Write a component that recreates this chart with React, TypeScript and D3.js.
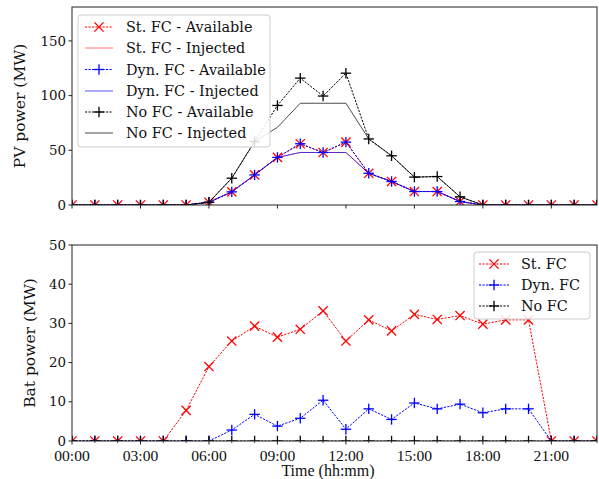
import React from "react";
import * as d3 from "d3";

const hours = d3.range(0, 24);
const xTickHours = [0, 3, 6, 9, 12, 15, 18, 21];
const xTickLabels = ["00:00", "03:00", "06:00", "09:00", "12:00", "15:00", "18:00", "21:00"];
const pvTicks = [0, 50, 100, 150];
const batTicks = [0, 10, 20, 30, 40, 50];

const stAvail = [0, 0, 0, 0, 0, 0, 2.5, 12, 27.5, 43.5, 56, 48, 57.5, 29, 21.5, 12.3, 12.3, 3.2, 0, 0, 0, 0, 0, 0];
const stInj = [0, 0, 0, 0, 0, 0, 2.5, 12, 27.5, 43.5, 48, 48, 48, 29, 21.5, 12.3, 12.3, 3.2, 0, 0, 0, 0, 0, 0];
const dynAvail = [0, 0, 0, 0, 0, 0, 2.5, 12, 27.5, 43.5, 56, 48, 57.5, 29, 21.5, 12.3, 12.3, 3.2, 0, 0, 0, 0, 0, 0];
const dynInj = [0, 0, 0, 0, 0, 0, 2.5, 12, 27.5, 43.5, 48, 48, 48, 29, 21.5, 12.3, 12.3, 3.2, 0, 0, 0, 0, 0, 0];
const noAvail = [0, 0, 0, 0, 0, 0, 2.5, 24.5, 58, 91, 116, 99.6, 120.5, 60.4, 45, 25.5, 26, 7.5, 0, 0, 0, 0, 0, 0];
const noInj = [0, 0, 0, 0, 0, 0, 2.5, 24.5, 58, 71, 93, 93, 93, 60.4, 45, 25.5, 26, 7.5, 0, 0, 0, 0, 0, 0];

const stBat = [0, 0, 0, 0, 0, 7.8, 19, 25.5, 29.3, 26.5, 28.5, 33.2, 25.5, 30.9, 28.1, 32.3, 31, 32, 29.8, 30.9, 30.9, 0, 0, 0];
const dynBat = [0, 0, 0, 0, 0, 0, 0, 2.8, 6.8, 3.8, 5.8, 10.4, 3.0, 8.2, 5.5, 9.7, 8.2, 9.4, 7.2, 8.2, 8.2, 0, 0, 0];
const noBat = [0, 0, 0, 0, 0, 0, 0, 0, 0, 0, 0, 0, 0, 0, 0, 0, 0, 0, 0, 0, 0, 0, 0, 0];

const topLegend = ["St. FC - Available", "St. FC - Injected", "Dyn. FC - Available", "Dyn. FC - Injected", "No FC - Available", "No FC - Injected"];
const botLegend = ["St. FC", "Dyn. FC", "No FC"];

const W = 599, H = 479;
const L = 72, R = 597;
const T1 = 7, B1 = 205;
const T2 = 245, B2 = 441;
const SERIF = "'DejaVu Serif', serif";

type Series = { vals: number[]; color: string; dashed: boolean; marker: "x" | "+" | null; opacity: number };

function Marker({ type, x, y, color }: { type: "x" | "+" | null; x: number; y: number; color: string }) {
  if (!type) return null;
  if (type === "x") {
    const s = 4.6;
    return (
      <g stroke={color} strokeWidth={1.3}>
        <line x1={x - s} y1={y - s} x2={x + s} y2={y + s} />
        <line x1={x - s} y1={y + s} x2={x + s} y2={y - s} />
      </g>
    );
  }
  const s = 5.2;
  return (
    <g stroke={color} strokeWidth={1.3}>
      <line x1={x - s} y1={y} x2={x + s} y2={y} />
      <line x1={x} y1={y - s} x2={x} y2={y + s} />
    </g>
  );
}

function Panel({ id, top, bottom, ymax, yTicks, series, showXLabels }: { id: string; top: number; bottom: number; ymax: number; yTicks: number[]; series: Series[]; showXLabels: boolean }) {
  const x = d3.scaleLinear().domain([0, 23]).range([L, R]);
  const y = d3.scaleLinear().domain([0, ymax]).range([bottom, top]);
  const line = d3.line<number>().x((_, i) => x(hours[i])).y((v) => y(v));
  return (
    <g>
      <defs>
        <clipPath id={id}>
          <rect x={L} y={top} width={R - L} height={bottom - top} />
        </clipPath>
      </defs>
      <g clipPath={`url(#${id})`}>
        {series.map((s, k) => (
          <g key={k} opacity={s.opacity}>
            <path d={line(s.vals) || ""} fill="none" stroke={s.color} strokeWidth={1} strokeDasharray={s.dashed ? "2.2,1.3" : undefined} />
            {s.vals.map((v, i) => (
              <Marker key={i} type={s.marker} x={x(hours[i])} y={y(v)} color={s.color} />
            ))}
          </g>
        ))}
      </g>
      <rect x={L} y={top} width={R - L} height={bottom - top} fill="none" stroke="#222" strokeWidth={1} />
      {yTicks.map((t) => (
        <g key={t}>
          <line x1={L - 3.5} x2={L} y1={y(t)} y2={y(t)} stroke="#222" strokeWidth={1} />
          <text x={L - 6} y={y(t)} dy="0.35em" textAnchor="end" fontFamily={SERIF} fontSize={13.4} fill="#111">{t}</text>
        </g>
      ))}
      {xTickHours.map((h, i) => (
        <g key={h}>
          <line x1={x(h)} x2={x(h)} y1={bottom} y2={bottom + 3.5} stroke="#222" strokeWidth={1} />
          {showXLabels && (
            <text x={x(h)} y={bottom + 19.5} textAnchor="middle" fontFamily="'Liberation Serif', serif" fontSize={15.6} fill="#111">{xTickLabels[i]}</text>
          )}
        </g>
      ))}
      {showXLabels && hours.filter((h) => h % 3 !== 0).map((h) => (
        <line key={"m" + h} x1={x(h)} x2={x(h)} y1={bottom} y2={bottom + 2} stroke="#222" strokeWidth={0.8} />
      ))}
    </g>
  );
}

function Legend({ x0, y0, w, h, labels, series, rowY, lineX, textX }: { x0: number; y0: number; w: number; h: number; labels: string[]; series: Series[]; rowY: number[]; lineX: [number, number]; textX: number }) {
  return (
    <g>
      <rect x={x0} y={y0} width={w} height={h} rx={3} fill="white" fillOpacity={0.85} stroke="#ccc" strokeWidth={1} />
      {labels.map((lab, i) => {
        const s = series[i];
        const yy = rowY[i];
        return (
          <g key={lab}>
            <g opacity={s.opacity}>
              <line x1={lineX[0]} x2={lineX[1]} y1={yy} y2={yy} stroke={s.color} strokeWidth={1} strokeDasharray={s.dashed ? "2.2,1.3" : undefined} />
              <Marker type={s.marker} x={(lineX[0] + lineX[1]) / 2} y={yy} color={s.color} />
            </g>
            <text x={textX} y={yy} dy="0.35em" fontFamily={SERIF} fontSize={14.4} fill="#111">{lab}</text>
          </g>
        );
      })}
    </g>
  );
}

export default function App() {
  const topSeries: Series[] = [
    { vals: stAvail, color: "#ff0000", dashed: true, marker: "x", opacity: 1 },
    { vals: stInj, color: "#ff0000", dashed: false, marker: null, opacity: 0.55 },
    { vals: dynAvail, color: "#0000ff", dashed: true, marker: "+", opacity: 1 },
    { vals: dynInj, color: "#0000ff", dashed: false, marker: null, opacity: 0.65 },
    { vals: noAvail, color: "#000000", dashed: true, marker: "+", opacity: 1 },
    { vals: noInj, color: "#000000", dashed: false, marker: null, opacity: 0.7 },
  ];
  const botSeries: Series[] = [
    { vals: stBat, color: "#ff0000", dashed: true, marker: "x", opacity: 1 },
    { vals: dynBat, color: "#0000ff", dashed: true, marker: "+", opacity: 1 },
    { vals: noBat, color: "#000000", dashed: true, marker: "+", opacity: 1 },
  ];
  return (
    <svg width={W} height={H} style={{ position: "absolute", left: 0, top: 0, background: "white" }}>
      <rect x={0} y={0} width={W} height={H} fill="white" />
      <Panel id="clipTop" top={T1} bottom={B1} ymax={181} yTicks={pvTicks} series={topSeries} showXLabels={false} />
      <Panel id="clipBot" top={T2} bottom={B2} ymax={50} yTicks={batTicks} series={botSeries} showXLabels={true} />
      <Legend x0={78} y0={15} w={192} h={132} labels={topLegend} series={topSeries} rowY={[27, 48, 69.5, 91, 112, 133]} lineX={[85, 113]} textX={126} />
      <Legend x0={474} y0={252} w={116} h={67} labels={botLegend} series={botSeries} rowY={[264, 285, 306]} lineX={[479, 509]} textX={521} />
      <text transform={`translate(25,${(T1 + B1) / 2}) rotate(-90)`} textAnchor="middle" fontFamily={SERIF} fontSize={15.5} fill="#111">PV power (MW)</text>
      <text transform={`translate(35,${(T2 + B2) / 2}) rotate(-90)`} textAnchor="middle" fontFamily={SERIF} fontSize={15.5} fill="#111">Bat power (MW)</text>
      <text x={328} y={475.5} textAnchor="middle" fontFamily="'Liberation Serif', serif" fontSize={16} fill="#111">Time (hh:mm)</text>
    </svg>
  );
}
